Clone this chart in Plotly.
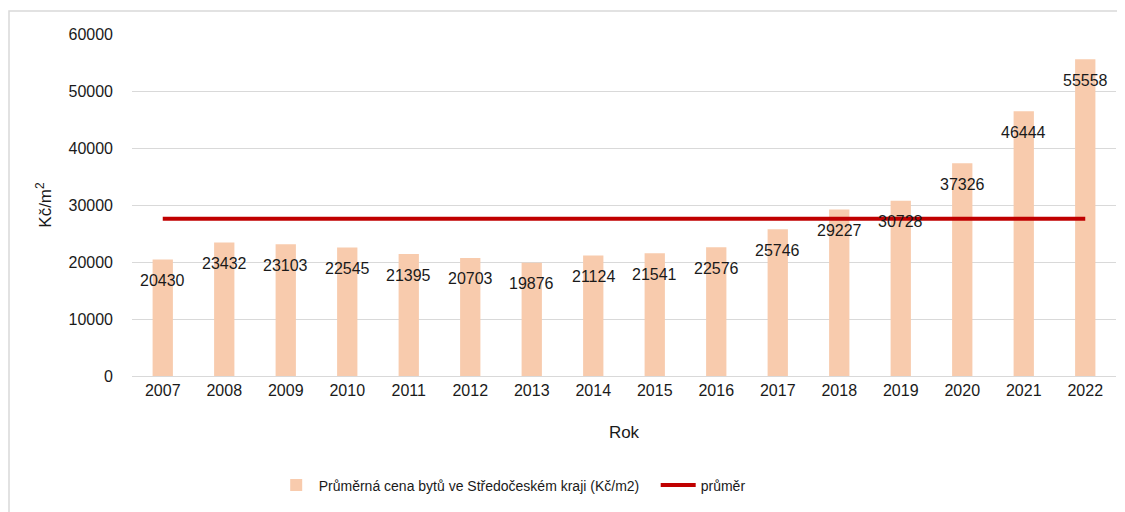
import plotly.graph_objects as go

years = ["2007", "2008", "2009", "2010", "2011", "2012", "2013", "2014",
         "2015", "2016", "2017", "2018", "2019", "2020", "2021", "2022"]
prices = [20430, 23432, 23103, 22545, 21395, 20703, 19876, 21124,
          21541, 22576, 25746, 29227, 30728, 37326, 46444, 55558]
y_ticks = [0, 10000, 20000, 30000, 40000, 50000, 60000]

bar_name = "Průměrná cena bytů ve Středočeském kraji (Kč/m2)"
avg_name = "průměr"
avg_value = sum(prices) / len(prices)
avg_series = [avg_value] * len(years)

FONT = "Liberation Sans, Arial, sans-serif"

fig = go.Figure()
fig.add_trace(go.Bar(
    x=years, y=prices, name=bar_name,
    marker=dict(color="#F8CBAD", line=dict(width=0)),
    width=0.33,
))
fig.add_trace(go.Scatter(
    x=years, y=avg_series, name=avg_name, mode="lines",
    line=dict(color="#C00000", width=4),
))

annotations = []
for i, v in enumerate(prices):
    annotations.append(dict(
        x=i, y=v, xref="x", yref="y", text=str(v), showarrow=False,
        yshift=-21, yanchor="middle", xanchor="center",
        font=dict(family=FONT, size=16, color="#1a1a1a"),
    ))

fig.update_layout(
    width=1117, height=504,
    margin=dict(l=124, r=9, t=26, b=136),
    paper_bgcolor="white", plot_bgcolor="white",
    font=dict(family=FONT, size=16, color="#1a1a1a"),
    showlegend=True,
    legend=dict(
        orientation="h", x=0.144, xanchor="left", y=-0.32, yanchor="middle",
        font=dict(family=FONT, size=14, color="#1a1a1a"),
        itemwidth=35, entrywidth=332, entrywidthmode="pixels",
    ),
    xaxis=dict(
        type="category", categoryorder="array", categoryarray=years,
        range=[-0.5, len(years) - 0.5],
        showgrid=False, showline=True, linecolor="#D9D9D9",
        linewidth=1, ticks="", tickfont=dict(size=16),
        title=dict(text="Rok", font=dict(size=17), standoff=27),
    ),
    yaxis=dict(
        range=[0, 60000], tickvals=y_ticks, tickformat="d",
        showgrid=True, gridcolor="#D9D9D9",
        gridwidth=1, zeroline=False, showline=False, ticks="",
        tickfont=dict(size=16), ticklabelstandoff=18,
        title=dict(text="Kč/m<sup>2</sup>", font=dict(size=17), standoff=12),
    ),
    annotations=annotations,
    shapes=[dict(
        type="rect", xref="paper", yref="paper",
        x0=-0.1250, x1=1.2, y0=-0.6, y1=1.067,
        line=dict(color="#D9D9D9", width=1.5), fillcolor="rgba(0,0,0,0)",
        layer="below",
    )],
)

fig.write_html("out.html")
